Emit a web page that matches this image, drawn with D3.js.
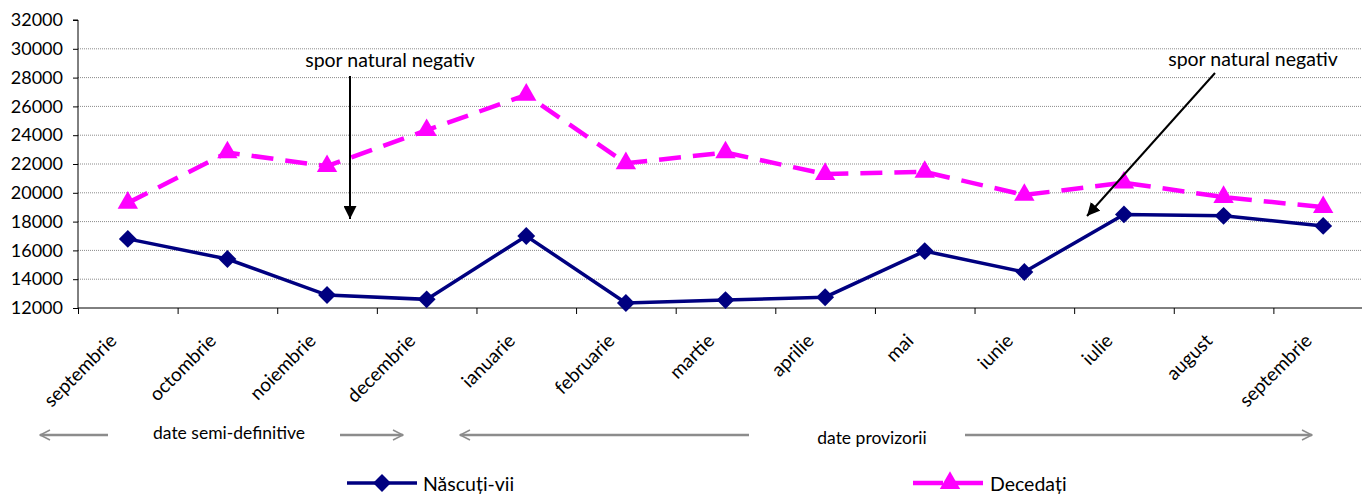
<!DOCTYPE html>
<html><head><meta charset="utf-8">
<script src="https://cdn.jsdelivr.net/npm/d3@7"></script>
<style>body{margin:0;background:#fff;} svg{display:block;font-family:Lato, "Noto Sans", sans-serif;}</style>
</head><body>
<svg id="c" width="1362" height="494"></svg>
<script>
const categories = ["septembrie","octombrie","noiembrie","decembrie","ianuarie","februarie","martie","aprilie","mai","iunie","iulie","august","septembrie"];
const nascuti = [16800,15400,12900,12600,17000,12350,12550,12750,15950,14500,18500,18400,17700];
const decedati = [19300,22800,21850,24350,26800,22050,22800,21300,21450,19850,20700,19700,19000];
const yTicks = [12000,14000,16000,18000,20000,22000,24000,26000,28000,30000,32000];
const seriesNames = ["Născuți-vii","Decedați"];

const svg = d3.select("#c");
const L = 78, R = 1373, T = 20, B = 308;
const x = d3.scaleBand().domain(d3.range(categories.length)).range([L, R]);
const y = d3.scaleLinear().domain([12000, 32000]).range([B, T]);
const cx = i => x(i) + x.bandwidth()/2;

const defs = svg.append("defs");
defs.append("marker").attr("id","blk").attr("viewBox","0 0 10 10").attr("refX",10).attr("refY",5)
  .attr("markerWidth",6.5).attr("markerHeight",6.5).attr("markerUnits","strokeWidth").attr("orient","auto")
  .append("path").attr("d","M0,0 L10,5 L0,10 Z").attr("fill","#000");
defs.append("marker").attr("id","gry").attr("viewBox","0 0 10 10").attr("refX",9).attr("refY",5)
  .attr("markerWidth",5).attr("markerHeight",5).attr("markerUnits","strokeWidth").attr("orient","auto")
  .append("path").attr("d","M1,1 L9,5 L1,9").attr("fill","none").attr("stroke","#8c8c8c").attr("stroke-width",1.2);

// gridlines
svg.append("g").selectAll("line").data(yTicks.filter(v => v > 12000 && v < 32000)).join("line")
  .attr("x1", L).attr("x2", R).attr("y1", d => y(d)).attr("y2", d => y(d))
  .attr("stroke", "#8a8a8a").attr("stroke-width", 1).attr("stroke-dasharray","1,1");

// y axis
const ya = svg.append("g").attr("transform", `translate(${L},0)`)
  .call(d3.axisLeft(y).tickValues(yTicks).tickSize(5).tickPadding(10).tickFormat(d3.format("d")));
ya.select(".domain").attr("stroke","#000").attr("d", `M-5,${T}H0V${B}`);
ya.selectAll("text").attr("font-size", 18).attr("font-family","Lato").attr("fill","#000");

// x axis
const xa = svg.append("g").attr("transform", `translate(0,${B})`)
  .call(d3.axisBottom(d3.scaleLinear().domain([0, categories.length]).range([L, R]))
    .tickValues(d3.range(categories.length+1)).tickSize(6).tickFormat(""));
xa.select(".domain").attr("stroke","#000").attr("d", `M${L},0H${R}`);

// category labels
svg.append("g").selectAll("text").data(categories).join("text")
  .attr("transform", (d,i) => `translate(${cx(i)-10},${B+34}) rotate(-45)`)
  .attr("text-anchor","end").attr("font-size",19).attr("fill","#000").text(d => d);

// lines
const lineGen = d3.line().x((d,i) => cx(i)).y(d => y(d));
svg.append("path").datum(decedati).attr("d", lineGen).attr("fill","none")
  .attr("stroke","#ff00ff").attr("stroke-width",4.5).attr("stroke-dasharray","22,12");
svg.append("path").datum(nascuti).attr("d", lineGen).attr("fill","none")
  .attr("stroke","#000080").attr("stroke-width",3.5);

const tri = d3.symbol().type(d3.symbolTriangle).size(180);
const dia = d3.symbol().type(d3.symbolSquare).size(160);
svg.append("g").selectAll("path").data(decedati).join("path")
  .attr("transform",(d,i)=>`translate(${cx(i)},${y(d)})`).attr("d",tri).attr("fill","#ff00ff");
svg.append("g").selectAll("path").data(nascuti).join("path")
  .attr("transform",(d,i)=>`translate(${cx(i)},${y(d)}) rotate(45)`).attr("d",dia).attr("fill","#000080");

// annotations
svg.append("text").attr("x",390).attr("y",67).attr("text-anchor","middle").attr("font-size",19.5).text("spor natural negativ");
svg.append("line").attr("x1",350).attr("y1",76).attr("x2",350).attr("y2",219).attr("stroke","#000").attr("stroke-width",2).attr("marker-end","url(#blk)");
svg.append("text").attr("x",1253).attr("y",66).attr("text-anchor","middle").attr("font-size",19.5).text("spor natural negativ");
svg.append("line").attr("x1",1215).attr("y1",73).attr("x2",1087).attr("y2",216).attr("stroke","#000").attr("stroke-width",2).attr("marker-end","url(#blk)");

// data period arrows
const ga = svg.append("g").attr("stroke","#8c8c8c").attr("stroke-width",2.5).attr("marker-end","url(#gry)");
[[108,40],[340,403],[749,460],[965,1312]].forEach(([a,b]) =>
  ga.append("line").attr("x1",a).attr("x2",b).attr("y1",435).attr("y2",435));
svg.append("text").attr("x",229).attr("y",439).attr("text-anchor","middle").attr("font-size",17.5).text("date semi-definitive");
svg.append("text").attr("x",872).attr("y",444).attr("text-anchor","middle").attr("font-size",17.5).text("date provizorii");

// legend
const lg = svg.append("g");
lg.append("line").attr("x1",347).attr("x2",417).attr("y1",483).attr("y2",483).attr("stroke","#000080").attr("stroke-width",3.5);
lg.append("path").attr("transform","translate(382,483) rotate(45)").attr("d",dia).attr("fill","#000080");
lg.append("text").attr("x",423).attr("y",491).attr("font-size",19.5).text(seriesNames[0]);
lg.append("line").attr("x1",913).attr("x2",985).attr("y1",483).attr("y2",483).attr("stroke","#ff00ff").attr("stroke-width",4.5).attr("stroke-dasharray","30,10");
lg.append("path").attr("transform","translate(950,483)").attr("d",tri).attr("fill","#ff00ff");
lg.append("text").attr("x",990).attr("y",491).attr("font-size",19.5).text(seriesNames[1]);
</script>
</body></html>
